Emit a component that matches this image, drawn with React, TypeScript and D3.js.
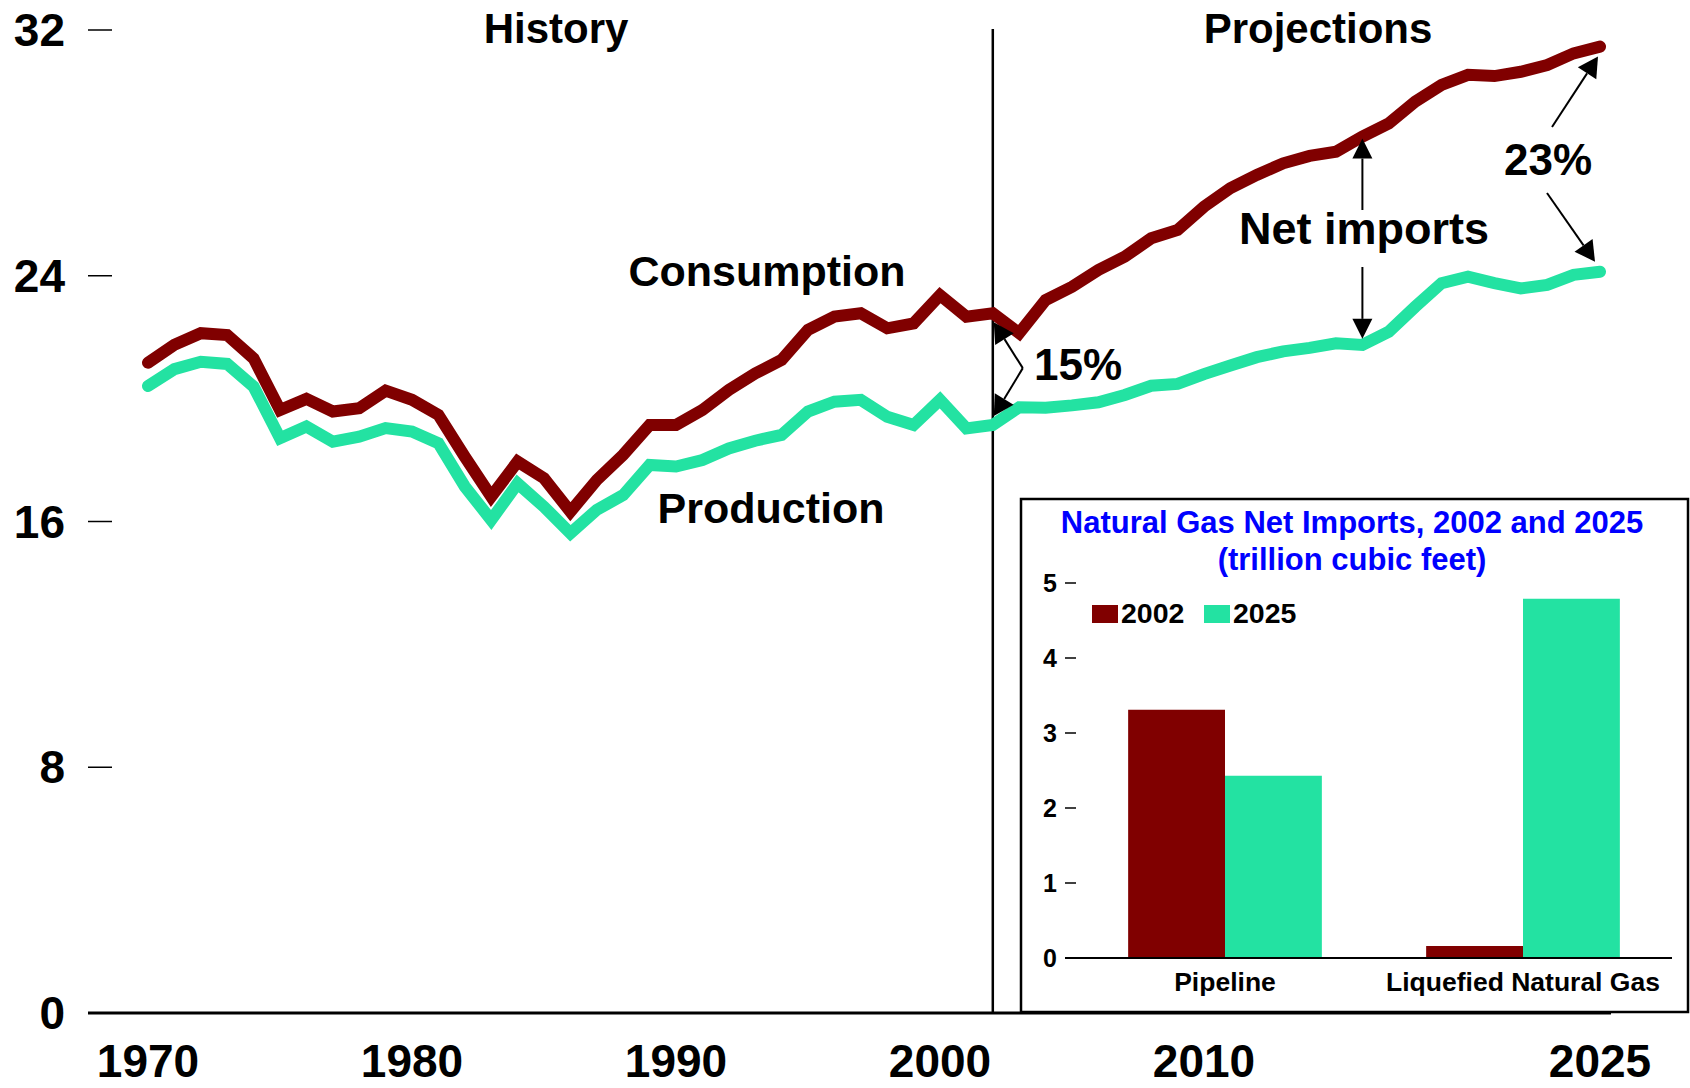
import React from "react";
import * as d3 from "d3";

const years = [1970,1971,1972,1973,1974,1975,1976,1977,1978,1979,1980,1981,1982,1983,1984,1985,1986,1987,1988,1989,1990,1991,1992,1993,1994,1995,1996,1997,1998,1999,2000,2001,2002,2003,2004,2005,2006,2007,2008,2009,2010,2011,2012,2013,2014,2015,2016,2017,2018,2019,2020,2021,2022,2023,2024,2025];
const consumption = [21.17,21.75,22.13,22.07,21.31,19.63,19.99,19.58,19.69,20.26,19.96,19.47,18.11,16.81,17.95,17.41,16.32,17.35,18.17,19.14,19.14,19.63,20.28,20.82,21.26,22.24,22.67,22.78,22.29,22.45,23.37,22.67,22.78,22.13,23.21,23.64,24.19,24.62,25.22,25.49,26.25,26.85,27.28,27.66,27.9,28.04,28.53,28.96,29.67,30.21,30.54,30.5,30.64,30.86,31.24,31.46];
const production = [20.41,20.96,21.2,21.13,20.39,18.71,19.09,18.6,18.76,19.04,18.93,18.55,17.14,16.05,17.24,16.48,15.62,16.38,16.86,17.84,17.79,18.0,18.38,18.63,18.82,19.58,19.9,19.96,19.41,19.14,19.96,19.03,19.14,19.72,19.7,19.78,19.88,20.12,20.42,20.48,20.8,21.08,21.35,21.54,21.65,21.8,21.75,22.18,22.99,23.76,23.97,23.76,23.59,23.7,24.03,24.13];
const yTicks = [0, 8, 16, 24, 32];
const xTickYears = [1970, 1980, 1990, 2000, 2010, 2025];
const lastHistoryYear = 2002;
const arrowYear = 2016;

const insetCategories = ["Pipeline", "Liquefied Natural Gas"];
const insetSeries = ["2002", "2025"];
const imports2002 = [3.31, 0.16];
const imports2025 = [2.43, 4.79];
const insetTicks = [0, 1, 2, 3, 4, 5];

const RED = "#800000";
const GREEN = "#23E2A2";
const FONT = "'Liberation Sans', Arial, Helvetica, sans-serif";

function Arrow({ x1, y1, x2, y2, L = 20, W = 10 }: any) {
  const dx = x2 - x1, dy = y2 - y1;
  const len = Math.hypot(dx, dy);
  const ux = dx / len, uy = dy / len;
  const bx = x2 - ux * L, by = y2 - uy * L;
  const nx = -uy, ny = ux;
  const pts = `${x2},${y2} ${bx + nx * W},${by + ny * W} ${bx - nx * W},${by - ny * W}`;
  return (
    <g>
      <line x1={x1} y1={y1} x2={bx} y2={by} stroke="#000" strokeWidth={2} />
      <polygon points={pts} fill="#000" />
    </g>
  );
}

export default function App() {
  const x = d3.scaleLinear().domain([1970, 2025]).range([148, 1600]);
  const y = d3.scaleLinear().domain([0, 32]).range([1013, 30]);
  const line = d3.line<number>().x((_, i) => x(years[i])).y((d) => y(d));

  const xDiv = x(lastHistoryYear);
  const iC = years.indexOf(lastHistoryYear);
  const iA = years.indexOf(arrowYear);
  const iE = years.length - 1;

  const ix0 = d3.scaleBand().domain(insetCategories).range([1076, 1672]).paddingInner(0.35).paddingOuter(0.175);
  const ix1 = d3.scaleBand().domain(insetSeries).range([0, ix0.bandwidth()]);
  const iy = d3.scaleLinear().domain([0, 5]).range([958, 583]);
  const seriesVals: Record<string, number[]> = { "2002": imports2002, "2025": imports2025 };
  const seriesCol: Record<string, string> = { "2002": RED, "2025": GREEN };

  const vx = xDiv + 30;
  const vy = (y(consumption[iC]) + y(production[iC])) / 2 - 1;

  return (
    <svg width={1690} height={1088} style={{ position: "absolute", left: 0, top: 0, background: "#fff" }} fontFamily={FONT} fontWeight="bold">
      <rect x={0} y={0} width={1690} height={1088} fill="#fff" />
      {yTicks.map((t) => (
        <g key={t}>
          {t !== 0 && <line x1={88} x2={112} y1={y(t)} y2={y(t)} stroke="#000" strokeWidth={1.5} />}
          <text x={65} y={y(t) + 16} textAnchor="end" fontSize={46} fill="#000">{t}</text>
        </g>
      ))}
      {xTickYears.map((yr) => (
        <text key={yr} x={x(yr)} y={1077} textAnchor="middle" fontSize={46} fill="#000">{yr}</text>
      ))}
      <line x1={88} x2={1611} y1={y(0)} y2={y(0)} stroke="#000" strokeWidth={3} />
      <line x1={xDiv} x2={xDiv} y1={29} y2={y(0)} stroke="#000" strokeWidth={2.5} />
      <text x={556} y={43} textAnchor="middle" fontSize={42} fill="#000">History</text>
      <text x={1318} y={43} textAnchor="middle" fontSize={42} fill="#000">Projections</text>

      <path d={line(production) || ""} fill="none" stroke={GREEN} strokeWidth={12} strokeLinecap="round" strokeLinejoin="miter" />
      <path d={line(consumption) || ""} fill="none" stroke={RED} strokeWidth={12} strokeLinecap="round" strokeLinejoin="miter" />

      <text x={767} y={286} textAnchor="middle" fontSize={43} fill="#000">Consumption</text>
      <text x={771} y={523} textAnchor="middle" fontSize={43} fill="#000">Production</text>

      <Arrow x1={vx} y1={vy} x2={xDiv + 1} y2={y(consumption[iC]) + 9} L={20} W={11} />
      <Arrow x1={vx} y1={vy} x2={xDiv + 1} y2={y(production[iC]) - 9} L={20} W={11} />
      <text x={1078} y={380} textAnchor="middle" fontSize={44} fill="#000">15%</text>

      <Arrow x1={x(arrowYear)} y1={210} x2={x(arrowYear)} y2={y(consumption[iA]) + 2} L={20} W={10} />
      <Arrow x1={x(arrowYear)} y1={267} x2={x(arrowYear)} y2={y(production[iA]) - 6} L={20} W={10} />
      <text x={1364} y={244} textAnchor="middle" fontSize={45} fill="#000">Net imports</text>

      <Arrow x1={1552} y1={127} x2={x(years[iE]) - 2} y2={y(consumption[iE]) + 10} L={20} W={11} />
      <Arrow x1={1547} y1={193} x2={x(years[iE]) - 5} y2={y(production[iE]) - 10} L={20} W={11} />
      <text x={1548} y={175} textAnchor="middle" fontSize={44} fill="#000">23%</text>

      <rect x={1021} y={499} width={667} height={513} fill="#fff" stroke="#000" strokeWidth={2.5} />
      <text x={1352} y={533} textAnchor="middle" fontSize={31} fill="#0000FF">Natural Gas Net Imports, 2002 and 2025</text>
      <text x={1352} y={570} textAnchor="middle" fontSize={31} fill="#0000FF">(trillion cubic feet)</text>
      {insetTicks.map((t) => (
        <g key={t}>
          <line x1={1065} x2={1076} y1={iy(t)} y2={iy(t)} stroke="#000" strokeWidth={1.5} />
          <text x={1057} y={iy(t) + 9} textAnchor="end" fontSize={25} fill="#000">{t}</text>
        </g>
      ))}
      {insetCategories.map((c, ci) => (
        <g key={c}>
          {insetSeries.map((s) => {
            const v = seriesVals[s][ci];
            return (
              <rect key={s} x={(ix0(c) as number) + (ix1(s) as number)} y={iy(v)} width={ix1.bandwidth()} height={iy(0) - iy(v)} fill={seriesCol[s]} />
            );
          })}
          <text x={(ix0(c) as number) + ix0.bandwidth() / 2} y={991} textAnchor="middle" fontSize={26.5} fill="#000">{c}</text>
        </g>
      ))}
      <line x1={1065} x2={1672} y1={iy(0)} y2={iy(0)} stroke="#000" strokeWidth={2} />
      <rect x={1092} y={605} width={26} height={18} fill={RED} />
      <text x={1121} y={623} fontSize={28.5} fill="#000">2002</text>
      <rect x={1204} y={605} width={26} height={18} fill={GREEN} />
      <text x={1233} y={623} fontSize={28.5} fill="#000">2025</text>
    </svg>
  );
}
